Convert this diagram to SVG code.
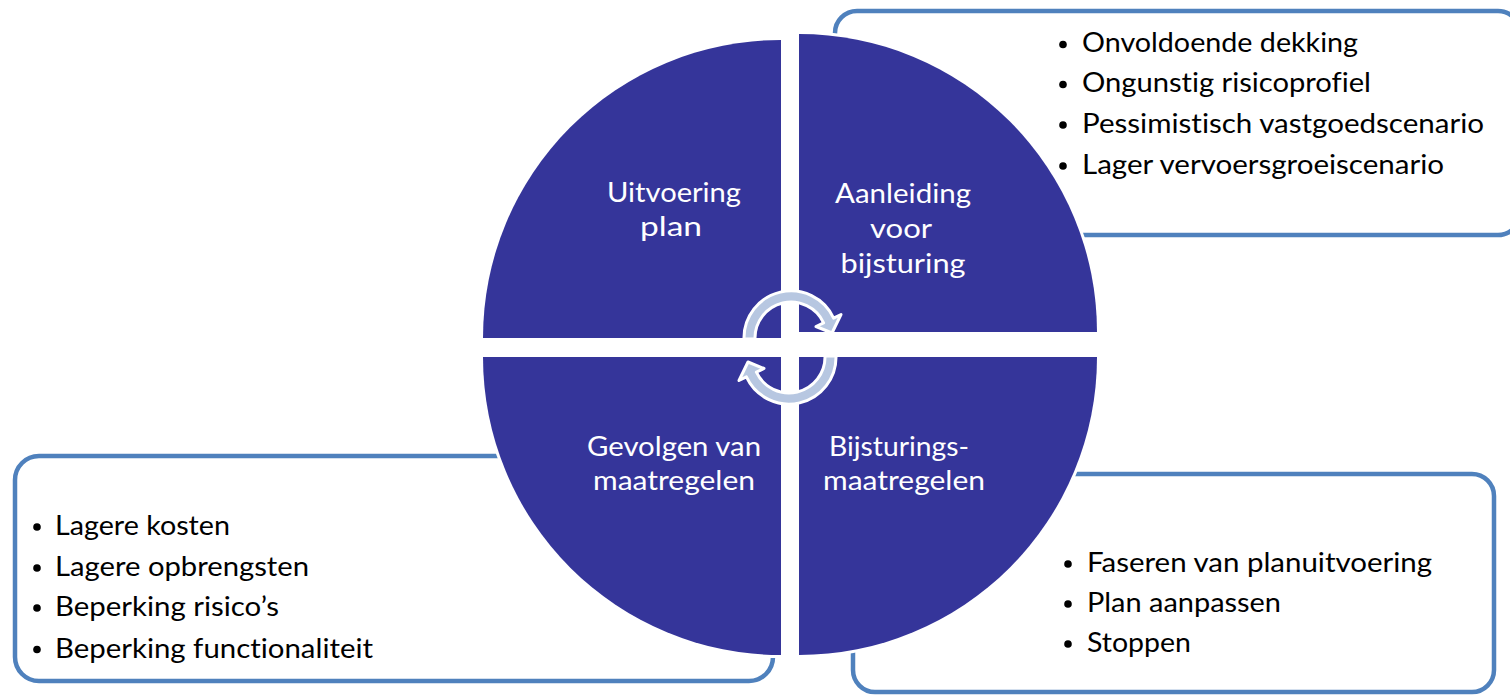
<svg xmlns="http://www.w3.org/2000/svg" width="1510" height="696" viewBox="0 0 1510 696">
<style>
.box{fill:#fff;stroke:#4F81BD;stroke-width:4.5}
.q{fill:#35359A;stroke:#fff;stroke-width:6;paint-order:stroke}
.lbl{font-family:Lato,"Liberation Sans",sans-serif;font-size:26px;fill:#fff;text-anchor:middle;font-variant-ligatures:none}
.bt{font-family:Lato,"Liberation Sans",sans-serif;font-size:26px;fill:#000;font-variant-ligatures:none}
.dot{fill:#000}
.arr{fill:#B7C7E1;stroke:#fff;stroke-width:3;stroke-linejoin:round}
</style>
<defs>
<path id="cyc" d="M 744 339 A 47 47 0 0 1 833.6 318.1 L 841 314.5 L 832 333 L 816 326.5 L 823.6 322.8 A 36 36 0 0 0 755 339 Z"/>
</defs>
<rect width="1510" height="696" fill="#fff"/>

<g id="box-aanleiding">
<rect class="box" x="835" y="11" width="685" height="224" rx="22"/>
<circle class="dot" cx="1063" cy="44.5" r="3.8"/>
<circle class="dot" cx="1063" cy="84.5" r="3.8"/>
<circle class="dot" cx="1063" cy="125" r="3.8"/>
<circle class="dot" cx="1063" cy="166" r="3.8"/>
<text class="bt" x="1082" y="52" textLength="276" lengthAdjust="spacingAndGlyphs">Onvoldoende dekking</text>
<text class="bt" x="1082" y="92" textLength="289" lengthAdjust="spacingAndGlyphs">Ongunstig risicoprofiel</text>
<text class="bt" x="1082" y="132.5" textLength="402" lengthAdjust="spacingAndGlyphs">Pessimistisch vastgoedscenario</text>
<text class="bt" x="1082" y="173.5" textLength="362" lengthAdjust="spacingAndGlyphs">Lager vervoersgroeiscenario</text>
</g>

<g id="box-gevolgen">
<rect class="box" x="15" y="456" width="758" height="225" rx="24"/>
<circle class="dot" cx="37" cy="527" r="3.8"/>
<circle class="dot" cx="37" cy="568" r="3.8"/>
<circle class="dot" cx="37" cy="608" r="3.8"/>
<circle class="dot" cx="37" cy="649.5" r="3.8"/>
<text class="bt" x="55" y="535" textLength="175" lengthAdjust="spacingAndGlyphs">Lagere kosten</text>
<text class="bt" x="55" y="576" textLength="254" lengthAdjust="spacingAndGlyphs">Lagere opbrengsten</text>
<text class="bt" x="55" y="616" textLength="224" lengthAdjust="spacingAndGlyphs">Beperking risico’s</text>
<text class="bt" x="55" y="657.5" textLength="318" lengthAdjust="spacingAndGlyphs">Beperking functionaliteit</text>
</g>

<g id="box-maatregelen">
<rect class="box" x="853" y="474" width="641" height="218" rx="22"/>
<circle class="dot" cx="1068" cy="564" r="3.8"/>
<circle class="dot" cx="1068" cy="604" r="3.8"/>
<circle class="dot" cx="1068" cy="644" r="3.8"/>
<text class="bt" x="1087" y="572" textLength="345" lengthAdjust="spacingAndGlyphs">Faseren van planuitvoering</text>
<text class="bt" x="1087" y="612" textLength="194" lengthAdjust="spacingAndGlyphs">Plan aanpassen</text>
<text class="bt" x="1087" y="652" textLength="104" lengthAdjust="spacingAndGlyphs">Stoppen</text>
</g>

<g id="q-uitvoering">
<path class="q" d="M 781 338 L 483 338 A 298 298 0 0 1 781 40 Z"/>
<text class="lbl" x="674" y="202" textLength="134" lengthAdjust="spacingAndGlyphs">Uitvoering</text>
<text class="lbl" x="671" y="235.5" textLength="62" lengthAdjust="spacingAndGlyphs">plan</text>
</g>

<g id="q-aanleiding">
<path class="q" d="M 799 332 L 799 34 A 298 298 0 0 1 1097 332 Z"/>
<text class="lbl" x="903" y="203" textLength="136" lengthAdjust="spacingAndGlyphs">Aanleiding</text>
<text class="lbl" x="901" y="237.5" textLength="62" lengthAdjust="spacingAndGlyphs">voor</text>
<text class="lbl" x="903" y="272.5" textLength="125" lengthAdjust="spacingAndGlyphs">bijsturing</text>
</g>

<g id="q-gevolgen">
<path class="q" d="M 781 357 L 781 655 A 298 298 0 0 1 483 357 Z"/>
<text class="lbl" x="674" y="456" textLength="174" lengthAdjust="spacingAndGlyphs">Gevolgen van</text>
<text class="lbl" x="674" y="490" textLength="162" lengthAdjust="spacingAndGlyphs">maatregelen</text>
</g>

<g id="q-bijsturing">
<path class="q" d="M 799 357 L 1097 357 A 298 298 0 0 1 799 655 Z"/>
<text class="lbl" x="899" y="456" textLength="140" lengthAdjust="spacingAndGlyphs">Bijsturings-</text>
<text class="lbl" x="904" y="490" textLength="162" lengthAdjust="spacingAndGlyphs">maatregelen</text>
</g>

<g id="connectors">
<use href="#cyc" class="arr"/>
<use href="#cyc" class="arr" transform="rotate(180 790 347.5)"/>
</g>
</svg>
